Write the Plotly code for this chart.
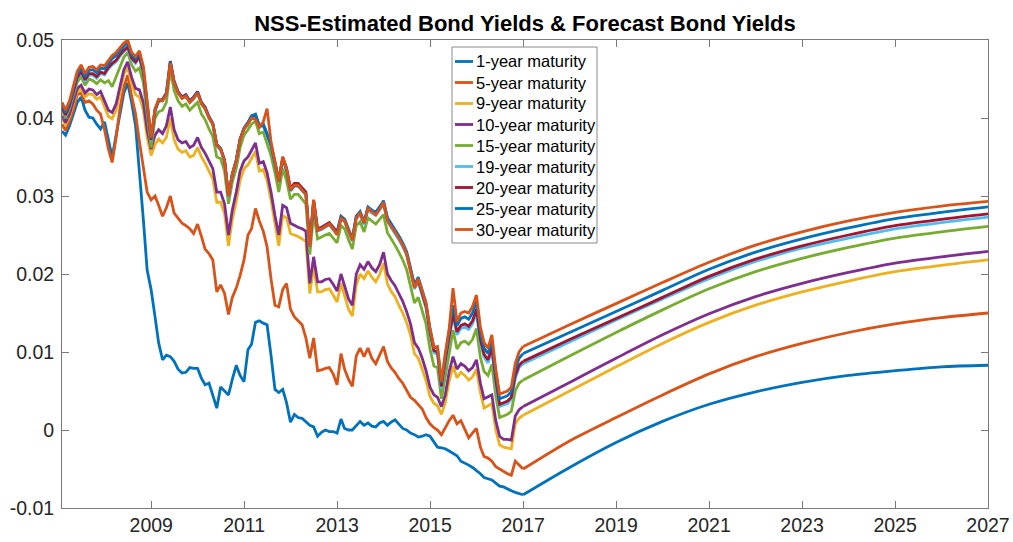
import pandas as pd
import plotly.graph_objects as go

# ---------------------------------------------------------------
# Monthly NSS-estimated yields, Jan 2007 - Dec 2016 (month ends)
# ---------------------------------------------------------------
hist_start = "2007-01-31"
hist_months = 120

yield_1y = [
    .0383, .0378, .0390, .0405, .0420, .0427, .0410, .0401, .0400, .0392, .0386, .0395,
    .0372, .0350, .0378, .0405, .0432, .0445, .0420, .0390, .0335, .0270, .0205, .0180,
    .0145, .0112, .0090, .0096, .0094, .0088, .0078, .0073, .0074, .0080, .0079, .0079,
    .0066, .0058, .0060, .0045, .0028, .0055, .0050, .0045, .0065, .0083, .0070, .0062,
    .0103, .0110, .0138, .0140, .0137, .0135, .0096, .0052, .0048, .0052, .0035, .0010,
    .0020, .0016, .0015, .0010, .0006, .0004, -.0008, -.0003, .0000, -.0002, -.0002, -.0004,
    .0014, .0002, .0000, .0000, .0005, .0011, .0006, .0009, .0005, .0004, .0009, .0011,
    .0006, .0010, .0013, .0008, .0002, .0000, -.0004, -.0006, -.0009, -.0008, -.0006, -.0008,
    -.0015, -.0022, -.0023, -.0024, -.0027, -.0030, -.0033, -.0040, -.0042, -.0045, -.0048, -.0052,
    -.0056, -.0061, -.0063, -.0064, -.0068, -.0072, -.0073, -.0076, -.0078, -.0080, -.0081, -.0083,
]
yield_5y = [
    .0392, .0384, .0396, .0410, .0430, .0432, .0420, .0422, .0418, .0410, .0405, .0385,
    .0360, .0343, .0375, .0412, .0440, .0455, .0428, .0405, .0370, .0335, .0305, .0295,
    .0300, .0288, .0274, .0285, .0300, .0278, .0272, .0265, .0262, .0258, .0252, .0264,
    .0248, .0232, .0226, .0218, .0177, .0186, .0175, .0148, .0170, .0182, .0198, .0218,
    .0250, .0258, .0284, .0268, .0255, .0235, .0194, .0160, .0158, .0180, .0188, .0155,
    .0145, .0140, .0135, .0118, .0092, .0118, .0076, .0077, .0079, .0080, .0072, .0058,
    .0098, .0078, .0065, .0056, .0095, .0105, .0094, .0105, .0092, .0085, .0095, .0107,
    .0088, .0080, .0074, .0066, .0060, .0052, .0042, .0038, .0032, .0027, .0016, .0008,
    .0003, .0000, -.0006, .0003, .0012, .0019, .0008, .0012, .0002, -.0010, -.0004, .0002,
    -.0022, -.0034, -.0036, -.0040, -.0047, -.0050, -.0053, -.0056, -.0058, -.0040, -.0045, -.0050,
]
yield_9y = [
    .0400, .0391, .0402, .0417, .0434, .0437, .0427, .0431, .0430, .0424, .0427, .0414,
    .0402, .0399, .0410, .0432, .0456, .0465, .0444, .0430, .0427, .0410, .0375, .0352,
    .0366, .0373, .0368, .0375, .0400, .0372, .0360, .0356, .0358, .0350, .0352, .0362,
    .0350, .0342, .0332, .0322, .0292, .0292, .0278, .0236, .0270, .0293, .0320, .0335,
    .0340, .0348, .0357, .0332, .0334, .0320, .0295, .0265, .0236, .0275, .0272, .0252,
    .0250, .0248, .0245, .0242, .0175, .0210, .0177, .0177, .0180, .0181, .0173, .0164,
    .0188, .0172, .0155, .0146, .0186, .0200, .0194, .0204, .0196, .0190, .0199, .0214,
    .0187, .0178, .0171, .0160, .0150, .0138, .0122, .0098, .0092, .0078, .0063, .0043,
    .0034, .0031, .0020, .0035, .0063, .0082, .0067, .0074, .0070, .0064, .0068, .0078,
    .0048, .0028, .0031, .0034, .0000, -.0019, -.0022, -.0023, -.0024, .0008, .0015, .0019,
]
yield_10y = [
    .0403, .0394, .0405, .0420, .0438, .0442, .0432, .0437, .0436, .0430, .0434, .0422,
    .0410, .0407, .0418, .0440, .0462, .0472, .0452, .0438, .0436, .0420, .0385, .0360,
    .0378, .0385, .0380, .0390, .0414, .0385, .0372, .0368, .0370, .0362, .0365, .0375,
    .0362, .0355, .0345, .0335, .0305, .0305, .0290, .0250, .0282, .0305, .0332, .0345,
    .0350, .0358, .0368, .0342, .0344, .0330, .0305, .0275, .0250, .0288, .0285, .0265,
    .0262, .0260, .0258, .0255, .0188, .0222, .0190, .0190, .0193, .0194, .0187, .0178,
    .0200, .0185, .0168, .0160, .0200, .0212, .0206, .0216, .0208, .0203, .0212, .0228,
    .0200, .0192, .0185, .0175, .0165, .0152, .0136, .0112, .0105, .0092, .0076, .0055,
    .0045, .0042, .0030, .0045, .0075, .0094, .0078, .0085, .0082, .0076, .0080, .0090,
    .0060, .0040, .0043, .0045, .0012, -.0008, -.0012, -.0012, -.0013, .0018, .0026, .0030,
]
yield_15y = [
    .0410, .0400, .0412, .0428, .0446, .0453, .0442, .0450, .0448, .0444, .0449, .0445,
    .0448, .0440, .0452, .0466, .0478, .0484, .0468, .0460, .0464, .0445, .0405, .0362,
    .0400, .0408, .0410, .0420, .0462, .0435, .0422, .0415, .0418, .0410, .0415, .0420,
    .0405, .0398, .0386, .0376, .0350, .0348, .0332, .0290, .0318, .0335, .0362, .0378,
    .0385, .0392, .0396, .0380, .0382, .0368, .0352, .0330, .0305, .0335, .0320, .0296,
    .0302, .0302, .0296, .0290, .0225, .0278, .0245, .0248, .0250, .0252, .0246, .0240,
    .0262, .0258, .0244, .0232, .0262, .0267, .0254, .0272, .0268, .0264, .0270, .0276,
    .0253, .0246, .0237, .0228, .0218, .0206, .0185, .0163, .0170, .0154, .0136, .0104,
    .0082, .0080, .0040, .0068, .0098, .0128, .0104, .0112, .0114, .0110, .0116, .0130,
    .0093, .0075, .0070, .0084, .0044, .0016, .0018, .0020, .0024, .0050, .0060, .0064,
]
yield_19y = [
    .0413, .0403, .0415, .0432, .0451, .0458, .0447, .0455, .0455, .0451, .0457, .0455,
    .0463, .0468, .0472, .0479, .0485, .0489, .0475, .0470, .0477, .0457, .0418, .0371,
    .0409, .0421, .0422, .0430, .0471, .0445, .0432, .0425, .0428, .0420, .0425, .0432,
    .0418, .0412, .0400, .0391, .0364, .0359, .0344, .0298, .0326, .0344, .0371, .0385,
    .0392, .0400, .0402, .0388, .0390, .0378, .0364, .0342, .0318, .0347, .0333, .0307,
    .0313, .0313, .0308, .0302, .0238, .0292, .0255, .0257, .0260, .0263, .0257, .0251,
    .0271, .0267, .0254, .0242, .0271, .0276, .0263, .0282, .0278, .0275, .0282, .0289,
    .0267, .0260, .0252, .0244, .0235, .0224, .0203, .0181, .0189, .0173, .0156, .0123,
    .0099, .0097, .0053, .0086, .0116, .0146, .0122, .0130, .0132, .0129, .0136, .0150,
    .0112, .0093, .0086, .0102, .0060, .0030, .0032, .0034, .0039, .0066, .0080, .0085,
]
yield_20y = [
    .0414, .0404, .0416, .0433, .0452, .0460, .0449, .0457, .0457, .0453, .0459, .0457,
    .0465, .0470, .0474, .0481, .0487, .0491, .0477, .0472, .0479, .0459, .0420, .0372,
    .0410, .0422, .0424, .0432, .0473, .0447, .0434, .0427, .0430, .0422, .0427, .0434,
    .0420, .0414, .0402, .0393, .0366, .0361, .0346, .0300, .0328, .0346, .0373, .0387,
    .0394, .0402, .0404, .0390, .0392, .0380, .0366, .0344, .0320, .0350, .0336, .0310,
    .0316, .0316, .0311, .0305, .0240, .0295, .0258, .0260, .0263, .0266, .0260, .0254,
    .0274, .0270, .0257, .0245, .0274, .0279, .0266, .0285, .0281, .0278, .0285, .0292,
    .0270, .0263, .0255, .0247, .0238, .0227, .0206, .0184, .0192, .0176, .0159, .0126,
    .0102, .0100, .0056, .0089, .0119, .0150, .0126, .0134, .0136, .0133, .0140, .0155,
    .0116, .0097, .0090, .0106, .0064, .0033, .0035, .0037, .0042, .0070, .0083, .0088,
]
yield_25y = [
    .0417, .0407, .0419, .0436, .0456, .0464, .0453, .0461, .0462, .0458, .0464, .0463,
    .0470, .0476, .0480, .0486, .0492, .0496, .0481, .0476, .0483, .0463, .0423, .0374,
    .0411, .0423, .0423, .0431, .0472, .0446, .0433, .0426, .0429, .0421, .0426, .0433,
    .0419, .0413, .0401, .0393, .0366, .0361, .0346, .0300, .0328, .0346, .0373, .0387,
    .0394, .0403, .0405, .0390, .0392, .0380, .0365, .0343, .0318, .0348, .0333, .0307,
    .0313, .0313, .0308, .0302, .0237, .0293, .0256, .0258, .0261, .0264, .0258, .0252,
    .0273, .0270, .0257, .0245, .0274, .0280, .0267, .0286, .0282, .0279, .0286, .0294,
    .0272, .0265, .0257, .0249, .0240, .0229, .0208, .0186, .0196, .0180, .0163, .0130,
    .0106, .0105, .0060, .0094, .0125, .0160, .0134, .0143, .0145, .0142, .0150, .0165,
    .0125, .0105, .0098, .0115, .0072, .0040, .0042, .0044, .0049, .0078, .0092, .0098,
]
yield_30y = [
    .0420, .0410, .0422, .0440, .0460, .0468, .0457, .0465, .0466, .0462, .0468, .0467,
    .0474, .0480, .0484, .0490, .0496, .0500, .0484, .0479, .0486, .0466, .0425, .0375,
    .0412, .0424, .0422, .0430, .0470, .0445, .0432, .0425, .0428, .0420, .0425, .0432,
    .0418, .0412, .0400, .0392, .0365, .0360, .0345, .0300, .0328, .0345, .0372, .0386,
    .0392, .0400, .0398, .0388, .0395, .0412, .0370, .0345, .0318, .0350, .0335, .0308,
    .0314, .0314, .0308, .0302, .0235, .0295, .0256, .0258, .0261, .0264, .0258, .0250,
    .0271, .0268, .0255, .0243, .0272, .0278, .0265, .0284, .0280, .0276, .0283, .0292,
    .0268, .0262, .0254, .0246, .0237, .0226, .0205, .0182, .0194, .0178, .0162, .0130,
    .0106, .0107, .0062, .0098, .0130, .0182, .0139, .0150, .0152, .0150, .0158, .0173,
    .0132, .0112, .0105, .0122, .0078, .0046, .0048, .0050, .0055, .0085, .0100, .0107,
]

# ---------------------------------------------------------------
# Forecast path, yearly from the start of 2017 to the start of 2027
# ---------------------------------------------------------------
forecast_years = [2017, 2018, 2019, 2020, 2021, 2022, 2023, 2024, 2025, 2026, 2027]

forecast_1y = [-.0083, -.0048, -.0016, .0011, .0033, .0049, .0061, .0070, .0076, .0081, .0083]
forecast_5y = [-.0050, -.0014, .0016, .0045, .0072, .0094, .0111, .0125, .0136, .0144, .0150]
forecast_9y = [.0019, .0050, .0081, .0111, .0138, .0160, .0177, .0191, .0203, .0211, .0218]
forecast_10y = [.0030, .0061, .0092, .0122, .0149, .0171, .0188, .0202, .0214, .0222, .0229]
forecast_15y = [.0064, .0095, .0125, .0154, .0181, .0203, .0220, .0234, .0246, .0254, .0261]
forecast_19y = [.0085, .0113, .0141, .0168, .0194, .0216, .0233, .0246, .0258, .0266, .0273]
forecast_20y = [.0088, .0116, .0143, .0170, .0197, .0219, .0236, .0250, .0262, .0270, .0277]
forecast_25y = [.0098, .0125, .0152, .0179, .0206, .0228, .0245, .0259, .0271, .0279, .0286]
forecast_30y = [.0107, .0135, .0162, .0189, .0215, .0237, .0254, .0268, .0279, .0287, .0293]

series_names = [
    "1-year maturity", "5-year maturity", "9-year maturity", "10-year maturity",
    "15-year maturity", "19-year maturity", "20-year maturity", "25-year maturity",
    "30-year maturity",
]

# axis labelling
x_tick_labels = ["2009", "2011", "2013", "2015", "2017", "2019", "2021", "2023", "2025", "2027"]
y_tick_values = [-0.01, 0.0, 0.01, 0.02, 0.03, 0.04, 0.05]
y_tick_labels = ["-0.01", "0", "0.01", "0.02", "0.03", "0.04", "0.05"]

# ---------------------------------------------------------------
history = [yield_1y, yield_5y, yield_9y, yield_10y, yield_15y,
           yield_19y, yield_20y, yield_25y, yield_30y]
forecast = [forecast_1y, forecast_5y, forecast_9y, forecast_10y, forecast_15y,
            forecast_19y, forecast_20y, forecast_25y, forecast_30y]

line_colors = ["#0072BD", "#D95319", "#EDB120", "#7E2F8E", "#77AC30",
               "#4DBEEE", "#A2142F", "#0072BD", "#D95319"]

hist_dates = pd.date_range(hist_start, periods=hist_months, freq=pd.offsets.MonthEnd())
fc_dates = pd.to_datetime([f"{y}-01-01" for y in forecast_years])

FONT = "Liberation Sans, Arial, Helvetica, sans-serif"
LINE_W = 2.8
W, H = 1013, 542
M_L, M_R, M_T, M_B = 62, 25, 40, 34

fig = go.Figure()
for name, hist, fc, color in zip(series_names, history, forecast, line_colors):
    fig.add_trace(go.Scatter(
        x=hist_dates, y=hist, mode="lines", name=name,
        line=dict(color=color, width=LINE_W), showlegend=False,
    ))
    fig.add_trace(go.Scatter(
        x=fc_dates, y=fc, mode="lines", name=name, showlegend=False,
        line=dict(color=color, width=LINE_W, shape="spline", smoothing=0.8),
    ))

# ---------------------------------------------------------------
# Boxed legend in the upper middle of the axes (paper coordinates)
# ---------------------------------------------------------------
plot_w = W - M_L - M_R
plot_h = H - M_T - M_B


def px_to_paper(px, py):
    return (px - M_L) / plot_w, (H - M_B - py) / plot_h


box_left, box_right, box_top, box_bottom = 452, 597, 47, 243
row_first, row_step = 61.5, 21.0
sample_x0, sample_x1, text_x = 455, 473, 473.5

shapes = []
annotations = []
bx0, by0 = px_to_paper(box_left, box_bottom)
bx1, by1 = px_to_paper(box_right, box_top)
shapes.append(dict(type="rect", xref="paper", yref="paper",
                   x0=bx0, y0=by0, x1=bx1, y1=by1,
                   line=dict(color="#8a8a8a", width=1), fillcolor="white", layer="above"))
for i, (name, color) in enumerate(zip(series_names, line_colors)):
    row_y = row_first + i * row_step
    lx0, ly = px_to_paper(sample_x0, row_y)
    lx1, _ = px_to_paper(sample_x1, row_y)
    shapes.append(dict(type="line", xref="paper", yref="paper",
                       x0=lx0, x1=lx1, y0=ly, y1=ly, layer="above",
                       line=dict(color=color, width=LINE_W)))
    tx, _ = px_to_paper(text_x, row_y)
    annotations.append(dict(xref="paper", yref="paper", x=tx, y=ly,
                            xanchor="left", yanchor="middle", showarrow=False,
                            text=name, font=dict(family=FONT, size=16.5, color="#000000")))

axis_color = "#7a7a7a"
text_color = "#262626"

fig.update_layout(
    width=W, height=H,
    margin=dict(l=M_L, r=M_R, t=M_T, b=M_B, autoexpand=False),
    paper_bgcolor="white", plot_bgcolor="white",
    font=dict(family=FONT, color=text_color),
    title=dict(
        text="<b>NSS-Estimated Bond Yields & Forecast Bond Yields</b>",
        font=dict(family=FONT, size=22, color="#000000"),
        x=0.5, xref="paper", xanchor="center",
        y=1 - 23 / H, yref="container", yanchor="middle",
    ),
    showlegend=False,
    shapes=shapes,
    annotations=annotations,
    xaxis=dict(
        type="date", automargin=False,
        range=[hist_dates[0], fc_dates[-1]],
        tickmode="array",
        tickvals=[f"{t}-01-01" for t in x_tick_labels],
        ticktext=x_tick_labels,
        ticks="inside", ticklen=7, tickwidth=1, tickcolor=axis_color,
        showline=True, linecolor=axis_color, linewidth=1, mirror="allticks",
        showgrid=False, zeroline=False,
        tickfont=dict(family=FONT, size=19.5, color=text_color),
    ),
    yaxis=dict(
        automargin=False,
        range=[-0.01, 0.05],
        tickmode="array",
        tickvals=y_tick_values,
        ticktext=y_tick_labels,
        ticks="inside", ticklen=7, tickwidth=1, tickcolor=axis_color,
        ticklabelstandoff=3,
        showline=True, linecolor=axis_color, linewidth=1, mirror="allticks",
        showgrid=False, zeroline=False,
        tickfont=dict(family=FONT, size=19.5, color=text_color),
    ),
)

fig.write_html("out.html")
